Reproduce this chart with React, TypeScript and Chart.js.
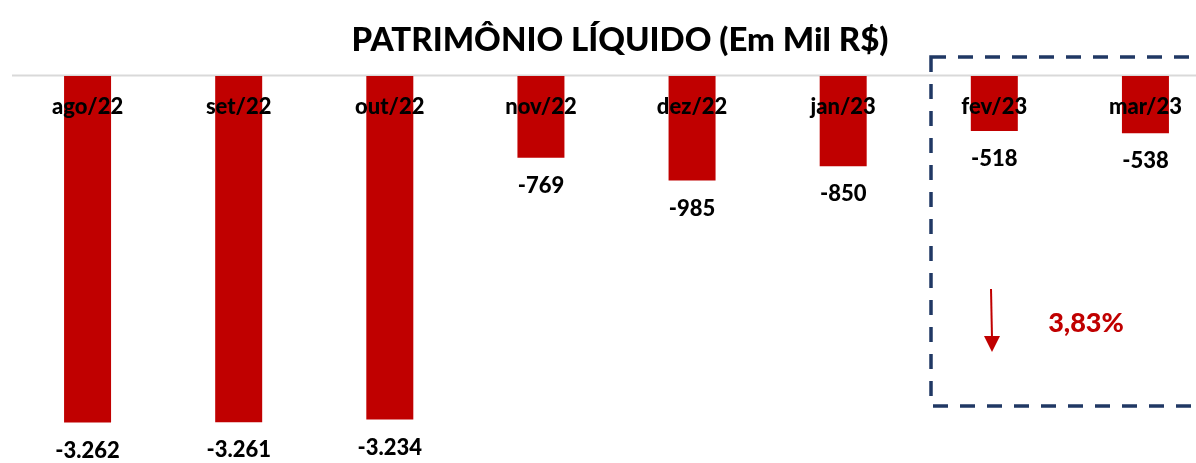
import React, { useEffect, useRef } from "react";
import { Chart, registerables } from "chart.js";

Chart.register(...registerables);

const categories = ["ago/22", "set/22", "out/22", "nov/22", "dez/22", "jan/23", "fev/23", "mar/23"];
const values = [-3262, -3261, -3234, -769, -985, -850, -518, -538];
const titleText = "PATRIMÔNIO LÍQUIDO (Em Mil R$)";
const variationText = "3,83%";

const RED = "#C00000";
const NAVY = "#203864";
const FONT = "Lato, 'Liberation Sans', sans-serif";

const fmt = (v: number) => {
  const s = Math.abs(v).toString().replace(/\B(?=(\d{3})+(?!\d))/g, ".");
  return (v < 0 ? "-" : "") + s;
};

const decorPlugin = {
  id: "decor",
  beforeDatasetsDraw(chart: any) {
    const { ctx } = chart;
    ctx.save();
    ctx.strokeStyle = "#D9D9D9";
    ctx.lineWidth = 2;
    ctx.beginPath();
    ctx.moveTo(12, 75.5);
    ctx.lineTo(chart.width, 75.5);
    ctx.stroke();
    ctx.restore();
  },
  afterDatasetsDraw(chart: any) {
    const { ctx } = chart;
    const meta = chart.getDatasetMeta(0);
    ctx.save();
    ctx.fillStyle = "#000";
    ctx.font = `900 33px ${FONT}`;
    ctx.textAlign = "center";
    ctx.textBaseline = "alphabetic";
    ctx.fillText(titleText, 620, 51);

    meta.data.forEach((bar: any, i: number) => {
      ctx.fillStyle = "#000";
      ctx.font = `900 22px ${FONT}`;
      ctx.textAlign = "center";
      ctx.textBaseline = "middle";
      ctx.fillText(categories[i], bar.x, 107);
      ctx.fillText(fmt(values[i]), bar.x, bar.y + 28);
    });

    ctx.strokeStyle = NAVY;
    ctx.lineWidth = 3.5;
    ctx.setLineDash([15, 12]);
    ctx.strokeRect(931, 57, 320, 349);
    ctx.setLineDash([]);

    ctx.strokeStyle = RED;
    ctx.fillStyle = RED;
    ctx.lineWidth = 2;
    ctx.beginPath();
    ctx.moveTo(991, 289);
    ctx.lineTo(992, 338);
    ctx.stroke();
    ctx.beginPath();
    ctx.moveTo(984, 336);
    ctx.lineTo(1000, 336);
    ctx.lineTo(992, 352);
    ctx.closePath();
    ctx.fill();

    ctx.font = `900 27px ${FONT}`;
    ctx.textAlign = "center";
    ctx.textBaseline = "middle";
    ctx.fillText(variationText, 1086, 323);
    ctx.restore();
  },
};

export default function App() {
  const ref = useRef<HTMLCanvasElement | null>(null);
  useEffect(() => {
    if (!ref.current) return;
    const chart = new Chart(ref.current, {
      type: "bar",
      data: {
        labels: categories,
        datasets: [
          {
            data: values,
            backgroundColor: RED,
            borderWidth: 0,
            barPercentage: 0.311,
            categoryPercentage: 1,
          },
        ],
      },
      options: {
        responsive: false,
        animation: false,
        layout: { padding: { top: 76, left: 12, right: 0, bottom: 0 } },
        plugins: { legend: { display: false }, title: { display: false }, tooltip: { enabled: false } },
        scales: {
          x: { display: false },
          y: { display: false, min: -3644, max: 0 },
        },
      },
      plugins: [decorPlugin],
    });
    return () => chart.destroy();
  }, []);
  return (
    <div style={{ position: "absolute", left: 0, top: 0, width: 1196, height: 463, overflow: "hidden", background: "#fff" }}>
      <canvas ref={ref} width={1221} height={463} style={{ width: 1221, height: 463, display: "block" }} />
    </div>
  );
}
